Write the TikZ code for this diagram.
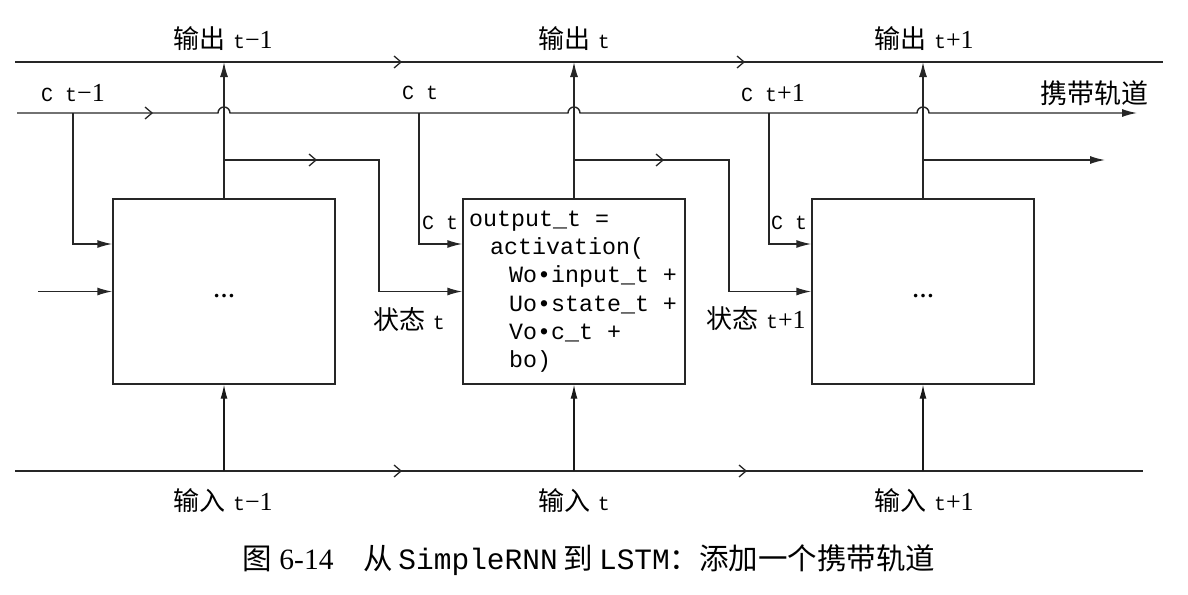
\documentclass[tikz,border=0pt]{standalone}
\usepackage{fontspec}
\setmainfont{Liberation Serif}
\setmonofont{Liberation Mono}
\newfontfamily\cjk{Noto Sans CJK SC}
\usetikzlibrary{arrows.meta,decorations.markings}

% monospaced pieces of the labels
\newcommand\lblmono[1]{{\ttfamily\fontsize{20}{20}\selectfont #1}}

\tikzset{
  wire/.style={line width=1.4pt, draw=black!85},
  thinwire/.style={line width=1.1pt, draw=black!90},
  tip/.style={-{Latex[length=15pt,width=8pt]}},
  thintip/.style={-{Latex[length=14pt,width=7pt]}},
  cell/.style={draw=black!85, line width=1.4pt, minimum width=222pt,
    minimum height=185pt, inner sep=0pt},
  chevron at/.style={postaction={decorate, decoration={markings,
    mark=at position #1 with {\arrow[line width=1.3pt]{Straight Barb[length=7pt,width=12pt]}}}}},
  lbl/.style={inner sep=0pt, font=\fontsize{26}{26}\selectfont},
  code/.style={inner sep=0pt, anchor=base west,
    font=\ttfamily\fontsize{23.3}{28}\selectfont},
  dots/.style={inner sep=0pt, font=\bfseries\fontsize{22}{22}\selectfont},
}

\begin{document}
\begin{tikzpicture}[x=1pt, y=-1pt]
\useasboundingbox (0,0) rectangle (1188,594);

% rails
\coordinate (topL) at (15,62);
\coordinate (topR) at (1163,62);
\coordinate (carL) at (17,113);
\coordinate (carR) at (1137,113);
\coordinate (botL) at (15,471);
\coordinate (botR) at (1143,471);
\coordinate (st) at (0,160);

% the three cells
\node[cell] (cell1) at (224,291.5) {};
\node[cell] (cell2) at (574,291.5) {};
\node[cell] (cell3) at (923,291.5) {};

\node[dots] (d1) at (224,296) {\ldots};
\node[dots] (d3) at (923,296) {\ldots};

% code of the middle cell
\node[code] (l1) at (469,226) {output\_t =};
\node[code] (l2) at (490,254) {activation(};
\node[code] (l3) at (509,282) {Wo•input\_t +};
\node[code] (l4) at (509,311) {Uo•state\_t +};
\node[code] (l5) at (509,339) {Vo•c\_t +};
\node[code] (l6) at (509,367) {bo)};

% output rail and input rail
\draw[wire, chevron at=387pt, chevron at=730pt] (topL) -- (topR);
\draw[wire, chevron at=387pt, chevron at=732pt] (botL) -- (botR);

% carry track with hops over the outputs
\draw[wire, tip, chevron at=136pt]
  (carL) -- ([xshift=-6pt]cell1.north |- carL) arc[start angle=180, end angle=360, radius=6]
  -- ([xshift=-6pt]cell2.north |- carL) arc[start angle=180, end angle=360, radius=6]
  -- ([xshift=-6pt]cell3.north |- carL) arc[start angle=180, end angle=360, radius=6]
  -- (carR);

% outputs
\draw[wire, tip] (cell1.north) -- (cell1.north |- topL);
\draw[wire, tip] (cell2.north) -- (cell2.north |- topL);
\draw[wire, tip] (cell3.north) -- (cell3.north |- topL);

% inputs
\draw[thinwire, thintip] (cell1.south |- botL) -- (cell1.south);
\draw[thinwire, thintip] (cell2.south |- botL) -- (cell2.south);
\draw[thinwire, thintip] (cell3.south |- botL) -- (cell3.south);

% state passed on to the next cell
\draw[wire, tip, chevron at=93pt] (cell1.north |- st) -- (379,160) -- (379,291.5) -- (cell2.west);
\draw[wire, tip, chevron at=90pt] (cell2.north |- st) -- (729,160) -- (729,291.5) -- (cell3.west);
\draw[wire, tip] (cell3.north |- st) -- (1105,160);
\draw[wire, tip] (38,291.5) -- (cell1.west);

% carry taps
\draw[wire, tip] (73,113) -- (73,244) -- ([yshift=47.5pt]cell1.west);
\draw[wire, tip] (419,113) -- (419,244) -- ([yshift=47.5pt]cell2.west);
\draw[wire, tip] (769,113) -- (769,244) -- ([yshift=47.5pt]cell3.west);

% labels
\node[lbl] (o1) at (223,39) {{\cjk 输出}\hspace{0.3em}\lblmono{t}−1};
\node[lbl] (o2) at (574,39) {{\cjk 输出}\hspace{0.3em}\lblmono{t}};
\node[lbl] (o3) at (924,39) {{\cjk 输出}\hspace{0.3em}\lblmono{t}+1};

\node[lbl] (c1) at (73,93) {\lblmono{C t}−1};
\node[lbl] (c2) at (420,93) {\lblmono{C t}};
\node[lbl] (c3) at (773,93) {\lblmono{C t}+1};
\node[lbl, font=\fontsize{27}{27}\selectfont] (track) at (1094,93) {\cjk 携带轨道};

\node[lbl] (ct2) at (440,223) {\lblmono{C t}};
\node[lbl] (ct3) at (789,223) {\lblmono{C t}};
\node[lbl] (s2) at (409,320) {{\cjk 状态}\hspace{0.3em}\lblmono{t}};
\node[lbl] (s3) at (756,319) {{\cjk 状态}\hspace{0.3em}\lblmono{t}+1};

\node[lbl] (i1) at (223,501) {{\cjk 输入}\hspace{0.3em}\lblmono{t}−1};
\node[lbl] (i2) at (574,501) {{\cjk 输入}\hspace{0.3em}\lblmono{t}};
\node[lbl] (i3) at (924,501) {{\cjk 输入}\hspace{0.3em}\lblmono{t}+1};

% caption
\node[lbl, font=\fontsize{29.5}{29.5}\selectfont] (caption) at (589,560)
  {{\cjk 图}\hspace{0.25em}6-14\hspace{1em}{\cjk 从}\hspace{0.2em}{\ttfamily SimpleRNN}\hspace{0.2em}{\cjk 到}\hspace{0.2em}{\ttfamily LSTM}{\cjk ：添加一个携带轨道}};
\end{tikzpicture}
\end{document}
